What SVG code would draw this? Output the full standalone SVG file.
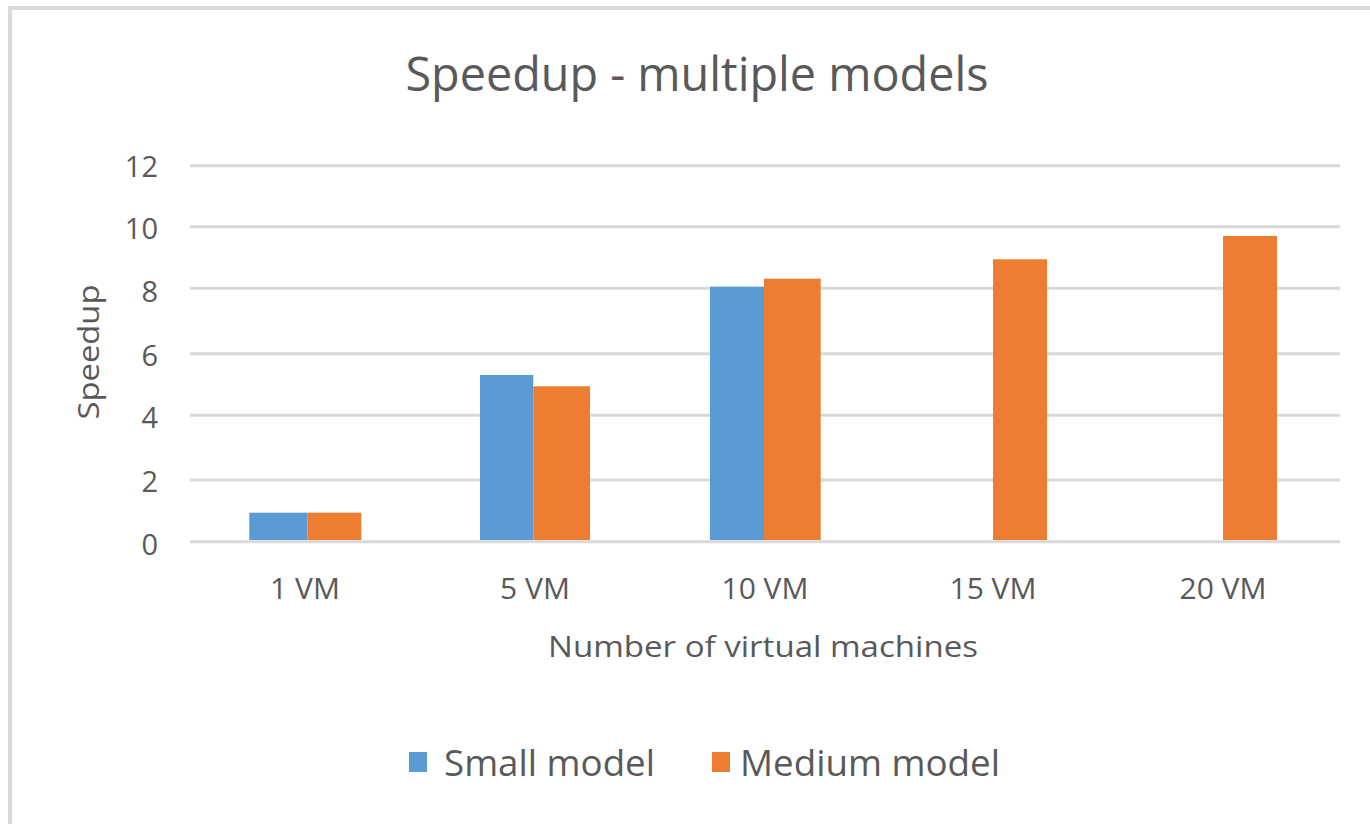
<svg xmlns="http://www.w3.org/2000/svg" width="1370" height="824" viewBox="0 0 1370 824">
<style>
text{font-family:"Open Sans","Liberation Sans",sans-serif;fill:#595959}
.grid{stroke:#d9d9d9;stroke-width:3}
.tick{font-size:29px;text-anchor:end}
.cat{font-size:30px;text-anchor:middle}
.s1{fill:#5b9bd5}
.s2{fill:#ed7d31}
</style>
<rect x="0" y="0" width="1370" height="824" fill="#ffffff"/>
<path d="M10 824 V8 H1370" fill="none" stroke="#d9d9d9" stroke-width="4"/>
<g id="title"><text x="697" y="91" font-size="48" text-anchor="middle" textLength="583" lengthAdjust="spacingAndGlyphs">Speedup - multiple models</text></g>
<g id="gridlines">
<line class="grid" x1="190" y1="165.7" x2="1340" y2="165.7"/>
<line class="grid" x1="190" y1="226.7" x2="1340" y2="226.7"/>
<line class="grid" x1="190" y1="288.3" x2="1340" y2="288.3"/>
<line class="grid" x1="190" y1="353.7" x2="1340" y2="353.7"/>
<line class="grid" x1="190" y1="415.3" x2="1340" y2="415.3"/>
<line class="grid" x1="190" y1="480" x2="1340" y2="480"/>
<line class="grid" x1="190" y1="541.7" x2="1340" y2="541.7"/>
</g>
<g id="y-axis">
<text class="tick" x="158" y="177">12</text>
<text class="tick" x="158" y="239">10</text>
<text class="tick" x="158" y="302">8</text>
<text class="tick" x="158" y="366">6</text>
<text class="tick" x="158" y="428">4</text>
<text class="tick" x="158" y="492">2</text>
<text class="tick" x="158" y="555">0</text>
<text transform="translate(99 352) rotate(-90)" x="0" y="0" font-size="30" text-anchor="middle" textLength="135" lengthAdjust="spacingAndGlyphs">Speedup</text>
</g>
<g id="bars">
<rect class="s1" x="249.3" y="512.7" width="58" height="27.3"/>
<rect class="s2" x="307.3" y="512.7" width="54" height="27.3"/>
<rect class="s1" x="480" y="375" width="53.3" height="165"/>
<rect class="s2" x="533.3" y="386.3" width="56.7" height="153.7"/>
<rect class="s1" x="710" y="286.7" width="54" height="253.3"/>
<rect class="s2" x="764" y="278.7" width="56.7" height="261.3"/>
<rect class="s2" x="993" y="259.3" width="54" height="280.7"/>
<rect class="s2" x="1223" y="236" width="54" height="304"/>
</g>
<g id="x-axis">
<text class="cat" x="305" y="599">1 VM</text>
<text class="cat" x="535" y="599">5 VM</text>
<text class="cat" x="765" y="599">10 VM</text>
<text class="cat" x="993" y="599">15 VM</text>
<text class="cat" x="1223" y="599">20 VM</text>
<text x="763" y="657" font-size="30" text-anchor="middle" textLength="430" lengthAdjust="spacingAndGlyphs">Number of virtual machines</text>
</g>
<g id="legend">
<rect class="s1" x="409" y="752" width="18" height="20"/>
<text x="444" y="776" font-size="36" textLength="211" lengthAdjust="spacingAndGlyphs">Small model</text>
<rect class="s2" x="712" y="752" width="18" height="20"/>
<text x="740" y="776" font-size="36" textLength="260" lengthAdjust="spacingAndGlyphs">Medium model</text>
</g>
</svg>
